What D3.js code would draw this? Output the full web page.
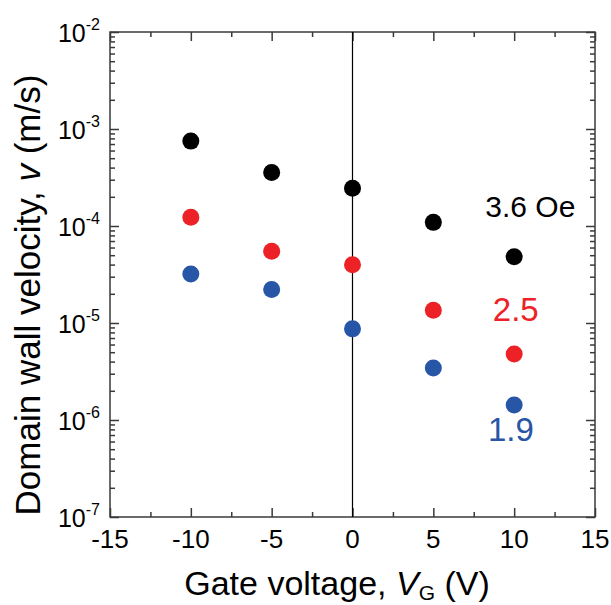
<!DOCTYPE html>
<html>
<head>
<meta charset="utf-8">
<script src="https://cdn.jsdelivr.net/npm/d3@7"></script>
<style>
  body { margin: 0; background: #fff; }
  text { font-family: Arial, "Liberation Sans", sans-serif; }
</style>
</head>
<body>
<div id="chart"></div>
<script>
// gate voltages (V)
const gateVoltages = [-10, -5, 0, 5, 10]
// domain wall velocity (m/s) per field
const v36 = [7.5e-4, 3.57e-4, 2.45e-4, 1.09e-4, 4.83e-5]
const v25 = [1.23e-4, 5.5e-5, 3.99e-5, 1.35e-5, 4.8e-6]
const v19 = [3.2e-5, 2.22e-5, 8.7e-6, 3.43e-6, 1.43e-6]
const seriesNames = ["3.6 Oe", "2.5", "1.9"]
const seriesColors = ["#000000", "#ec2227", "#2856a6"]
const xTicks = [-15, -10, -5, 0, 5, 10, 15]
const yExponents = [-7, -6, -5, -4, -3, -2]

const width = 611
const height = 605
const plotLeft = 110, plotRight = 595, plotTop = 32, plotBottom = 517

const svg = d3.select("#chart").append("svg")
  .attr("width", width)
  .attr("height", height)

const x = d3.scaleLinear().domain([-15, 15]).range([plotLeft, plotRight])
const y = d3.scaleLog().domain([1e-7, 1e-2]).range([plotBottom, plotTop])

// minor ticks
const xMinor = d3.range(-12.5, 15, 5)
const yMinor = []
yExponents.slice(0, -1).forEach(e => {
  for (let k = 2; k <= 9; k++) yMinor.push(k * Math.pow(10, e))
})

const axisColor = "#3a3a3a"

function styleAxis(g) {
  g.select(".domain").remove()
  g.selectAll(".tick line").attr("stroke", axisColor).attr("stroke-width", 1.5)
}

// major / minor ticks on all four sides, pointing inward
svg.append("g").attr("transform", "translate(0," + plotBottom + ")")
  .call(d3.axisBottom(x).tickValues(xTicks).tickSize(-9).tickFormat(""))
  .call(styleAxis)
svg.append("g").attr("transform", "translate(0," + plotBottom + ")")
  .call(d3.axisBottom(x).tickValues(xMinor).tickSize(-5).tickFormat(""))
  .call(styleAxis)
svg.append("g").attr("transform", "translate(0," + plotTop + ")")
  .call(d3.axisTop(x).tickValues(xTicks).tickSize(-9).tickFormat(""))
  .call(styleAxis)
svg.append("g").attr("transform", "translate(0," + plotTop + ")")
  .call(d3.axisTop(x).tickValues(xMinor).tickSize(-5).tickFormat(""))
  .call(styleAxis)

const yMajor = yExponents.map(e => Math.pow(10, e))
svg.append("g").attr("transform", "translate(" + plotLeft + ",0)")
  .call(d3.axisLeft(y).tickValues(yMajor).tickSize(-9).tickFormat(""))
  .call(styleAxis)
svg.append("g").attr("transform", "translate(" + plotLeft + ",0)")
  .call(d3.axisLeft(y).tickValues(yMinor).tickSize(-5).tickFormat(""))
  .call(styleAxis)
svg.append("g").attr("transform", "translate(" + plotRight + ",0)")
  .call(d3.axisRight(y).tickValues(yMajor).tickSize(-9).tickFormat(""))
  .call(styleAxis)
svg.append("g").attr("transform", "translate(" + plotRight + ",0)")
  .call(d3.axisRight(y).tickValues(yMinor).tickSize(-5).tickFormat(""))
  .call(styleAxis)

// frame
svg.append("rect")
  .attr("x", plotLeft).attr("y", plotTop)
  .attr("width", plotRight - plotLeft).attr("height", plotBottom - plotTop)
  .attr("fill", "none")
  .attr("stroke", axisColor)
  .attr("stroke-width", 1.5)

// zero line
svg.append("line")
  .attr("x1", x(0)).attr("x2", x(0))
  .attr("y1", plotTop).attr("y2", plotBottom)
  .attr("stroke", "#000")
  .attr("stroke-width", 1.2)

// x tick labels
svg.selectAll(".xlab")
  .data(xTicks)
  .enter().append("text")
  .attr("x", d => x(d))
  .attr("y", plotBottom + 31)
  .attr("text-anchor", "middle")
  .style("font-size", "26px")
  .text(d => d)

// y tick labels 10^n
yExponents.forEach(e => {
  let t = svg.append("text")
    .attr("x", plotLeft - 10)
    .attr("y", y(Math.pow(10, e)) + 10)
    .attr("text-anchor", "end")
  t.append("tspan").style("font-size", "25px").text("10")
  t.append("tspan").style("font-size", "16px").attr("dy", -12).text(e)
})

// data points
const allSeries = [v36, v25, v19]
allSeries.forEach((vals, i) => {
  svg.append("g").selectAll("circle")
    .data(vals)
    .enter().append("circle")
    .attr("cx", (d, j) => x(gateVoltages[j]))
    .attr("cy", d => y(d))
    .attr("r", 8.5)
    .attr("fill", seriesColors[i])
})

// series labels
const labelPos = [[11, 1.24e-4], [10.1, 1.05e-5], [9.8, 6.1e-7]]
const labelSize = ["30px", "33px", "33px"]
seriesNames.forEach((name, i) => {
  svg.append("text")
    .attr("x", x(labelPos[i][0]))
    .attr("y", y(labelPos[i][1]))
    .attr("text-anchor", "middle")
    .attr("fill", seriesColors[i])
    .style("font-size", labelSize[i])
    .text(name)
})

// x title
let xt = svg.append("text")
  .attr("x", 337)
  .attr("y", 595)
  .attr("text-anchor", "middle")
  .style("font-size", "34px")
xt.append("tspan").text("Gate voltage, ")
xt.append("tspan").style("font-style", "italic").text("V")
xt.append("tspan").style("font-size", "21px").attr("dy", 5).text("G")
xt.append("tspan").attr("dy", -5).text(" (V)")

// y title
let yt = svg.append("text")
  .attr("transform", "translate(40," + 295 + ") rotate(-90)")
  .attr("text-anchor", "middle")
  .style("font-size", "35px")
yt.append("tspan").text("Domain wall velocity, ")
yt.append("tspan").style("font-style", "italic").text("v")
yt.append("tspan").text(" (m/s)")
</script>
</body>
</html>
